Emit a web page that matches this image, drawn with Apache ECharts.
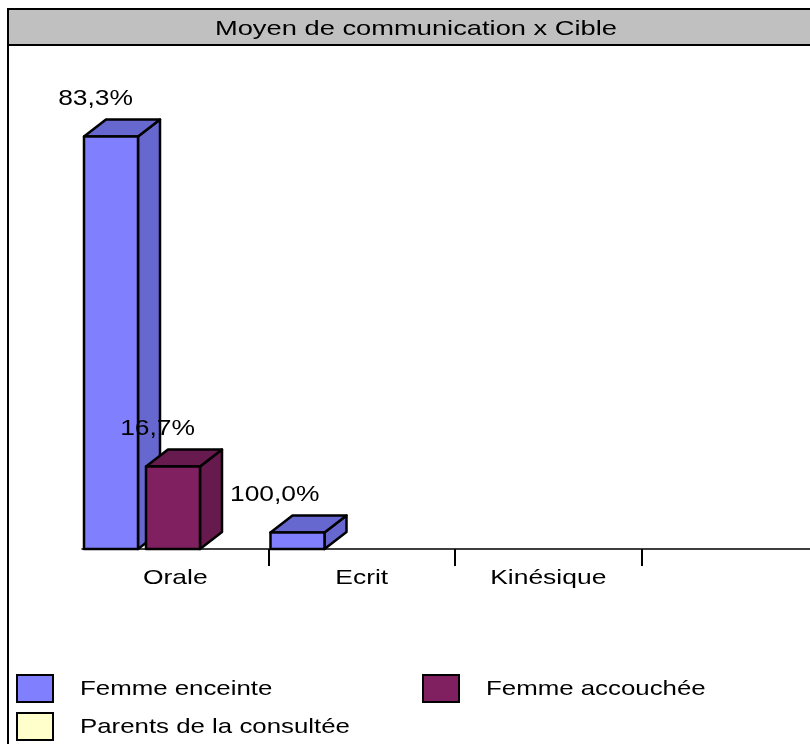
<!DOCTYPE html>
<html>
<head>
<meta charset="utf-8">
<title>Moyen de communication x Cible</title>
<script src="https://cdn.jsdelivr.net/npm/echarts@6/dist/echarts.min.js"></script>
<style>
  html, body { margin: 0; padding: 0; background: #fff; }
  #chart { width: 810px; height: 744px; }
</style>
</head>
<body>
<div id="chart"></div>
<script>
// data (counts drive the bar heights, labels are the row %)
const categories = ["Orale", "Ecrit", "Kinésique", ""];
const seriesNames = ["Femme enceinte", "Femme accouchée", "Parents de la consultée"];
const femmeEnceinte = [25, 1, 0, 0];
const femmeAccouchee = [5, 0, 0, 0];
const parentsConsultee = [0, 0, 0, 0];
const labelsEnceinte = ["83,3%", "100,0%", "", ""];
const labelsAccouchee = ["16,7%", "", "", ""];
const labelsParents = ["", "", "", ""];

const FONT = "Liberation Sans, Arial, sans-serif";
const STRETCH = 1.26;
const palette = [
  { front: "#8080ff", shade: "#6767d0" },
  { front: "#802060", shade: "#661a4d" },
  { front: "#ffffcc", shade: "#d9d9a6" },
];
const DX = 22, DY = 17, BAR_W = 54, BAR_STEP = 62;

function barRenderer(slot, labels) {
  return function (params, api) {
    const idx = api.value(0);
    const v = api.value(1);
    if (!v) return null;
    const base = api.coord([idx, 0]);
    const top = api.coord([idx, v]);
    const band = api.size([1, 0])[0];
    const x0 = base[0] - band / 2 + 2 + slot * BAR_STEP;
    const x1 = x0 + BAR_W;
    const c = palette[slot];
    const edge = { stroke: "#000", lineWidth: 2.5, lineJoin: "round" };
    const children = [
      { type: "polygon", shape: { points: [[x1, top[1]], [x1 + DX, top[1] - DY], [x1 + DX, base[1] - DY], [x1, base[1]]] }, style: Object.assign({ fill: c.shade }, edge) },
      { type: "polygon", shape: { points: [[x0, top[1]], [x0 + DX, top[1] - DY], [x1 + DX, top[1] - DY], [x1, top[1]]] }, style: Object.assign({ fill: c.shade }, edge) },
      { type: "rect", shape: { x: x0, y: top[1], width: BAR_W, height: base[1] - top[1] }, style: Object.assign({ fill: c.front }, edge) },
    ];
    if (labels[idx]) {
      children.push({
        type: "text", x: x1 - 5, y: top[1] - 38, scaleX: 1.2, z2: 10,
        style: { text: labels[idx], fill: "#000", font: "22px " + FONT, textAlign: "right", textVerticalAlign: "middle" },
      });
    }
    return { type: "group", children };
  };
}

function catLabelRenderer(params, api) {
  const idx = api.value(0);
  if (!categories[idx]) return null;
  const base = api.coord([idx, 0]);
  return {
    type: "text", x: base[0], y: base[1] + 29, scaleX: STRETCH,
    style: { text: categories[idx], fill: "#000", font: "21px " + FONT, textAlign: "center", textVerticalAlign: "middle" },
  };
}

const barValues = [femmeEnceinte, femmeAccouchee, parentsConsultee];
const barLabels = [labelsEnceinte, labelsAccouchee, labelsParents];

// legend drawn as graphic so the text can be stretched like the original
const legendSlots = [[17, 675], [423, 675], [17, 713]];
const legendGraphics = seriesNames.map((name, i) => ({
  type: "group",
  x: legendSlots[i][0],
  y: legendSlots[i][1],
  children: [
    { type: "rect", shape: { x: 0, y: 0, width: 36, height: 27 }, style: { fill: palette[i].front, stroke: "#000", lineWidth: 2 } },
    { type: "text", x: 63, y: 14, scaleX: 1.23, style: { text: name, fill: "#000", font: "21px " + FONT, textAlign: "left", textVerticalAlign: "middle" } },
  ],
}));

const chart = echarts.init(document.getElementById("chart"), null, { renderer: "canvas" });
chart.setOption({
  backgroundColor: "#fff",
  animation: false,
  graphic: [
    { type: "rect", z: -10, shape: { x: 8, y: 9, width: 1000, height: 1000 }, style: { fill: "#fff", stroke: "#000", lineWidth: 2 } },
    { type: "rect", z: -5, shape: { x: 8, y: 9, width: 1000, height: 36 }, style: { fill: "#c0c0c0", stroke: "#000", lineWidth: 2 } },
    { type: "text", z: -4, x: 416, y: 29, scaleX: 1.3, style: { text: "Moyen de communication x Cible", fill: "#000", font: "21px " + FONT, textAlign: "center", textVerticalAlign: "middle" } },
  ].concat(legendGraphics),
  grid: { left: 82, right: -18, top: 54, bottom: 195, outerBoundsMode: "none", containLabel: false },
  xAxis: {
    type: "category",
    data: categories,
    axisLine: { lineStyle: { color: "#000", width: 1.5 } },
    axisTick: { show: true, length: 17, interval: (i, v) => !(i === 0 || v === "Orale"), lineStyle: { color: "#000", width: 2 } },
    axisLabel: { show: false },
    splitLine: { show: false },
  },
  yAxis: { type: "value", min: 0, max: 30, show: false, splitLine: { show: false } },
  series: barValues.map((vals, i) => ({
    name: seriesNames[i],
    type: "custom",
    renderItem: barRenderer(i, barLabels[i]),
    data: vals.map((v, k) => [k, v]),
    encode: { x: 0, y: 1 },
    clip: false,
    z: 3 + i,
  })).concat([{
    name: "categories",
    type: "custom",
    renderItem: catLabelRenderer,
    data: categories.map((c, k) => [k, 0]),
    encode: { x: 0, y: 1 },
    clip: false,
    silent: true,
    z: 10,
  }]),
});
</script>
</body>
</html>
